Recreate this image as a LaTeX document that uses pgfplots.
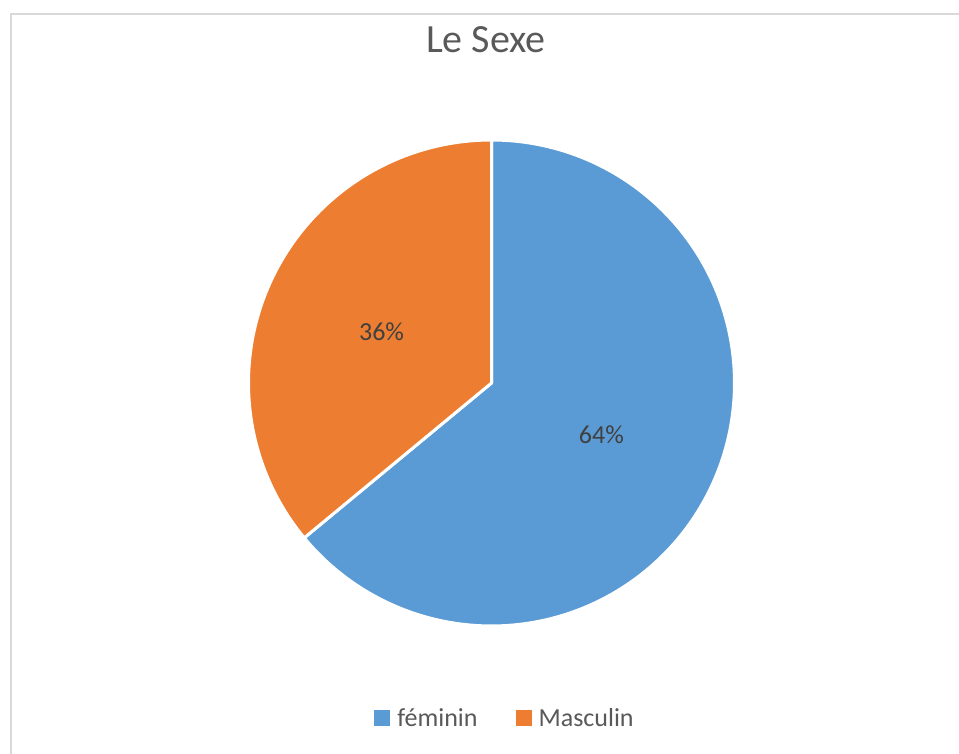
\documentclass[border=0pt]{standalone}
\usepackage{fontspec}
\setmainfont{Carlito}
\usepackage{pgfplots}
\usepackage{pgfplotstable}
\pgfplotsset{compat=1.18}

\definecolor{fem}{HTML}{5B9BD5}
\definecolor{mas}{HTML}{ED7D31}
\definecolor{titlegray}{HTML}{595959}
\definecolor{labelgray}{HTML}{404040}
\definecolor{framegray}{HTML}{D9D9D9}

% share of each group (%)
\pgfplotstableread{
grp pct
0 64
1 36
}\sexdata

\begin{document}
\begin{tikzpicture}
  \pgfplotstablegetelem{0}{pct}\of\sexdata \let\pctF\pgfplotsretval
  \pgfplotstablegetelem{1}{pct}\of\sexdata \let\pctM\pgfplotsretval
  % Excel style: start at 12 o'clock, run clockwise
  \pgfmathsetmacro{\aA}{90}
  \pgfmathsetmacro{\aB}{90-3.6*\pctF}
  \pgfmathsetmacro{\aC}{\aB-3.6*\pctM}
  \pgfmathsetmacro{\mF}{(\aA+\aB)/2}
  \pgfmathsetmacro{\mM}{(\aB+\aC)/2}
  \def\cx{491.5}\def\cy{371}\def\R{243}
  \begin{axis}[
      x=1pt, y=1pt,
      xmin=0, xmax=959, ymin=0, ymax=754,
      scale only axis,
      hide axis,
      clip=false,
      legend style={at={(axis cs:505,36)}, anchor=center, draw=none, fill=none,
        font=\fontsize{26}{30}\selectfont\color{titlegray},
        legend columns=2,
        /tikz/every odd column/.append style={column sep=5pt},
        /tikz/every even column/.append style={column sep=36pt}},
      legend image code/.code={\fill[#1,draw=none] (0pt,-8pt) rectangle (16pt,8pt);},
    ]
    \draw[framegray, line width=2pt] (axis cs:11,0) -- (axis cs:11,740) -- (axis cs:959,740);

    \addplot[fill=fem, draw=white, line width=3pt, line join=round,
      domain=\aB:\aA, samples=150, variable=\t]
      ({\cx+\R*cos(\t)}, {\cy+\R*sin(\t)}) -- (axis cs:\cx,\cy) -- cycle;
    \addlegendentry{féminin}
    \addplot[fill=mas, draw=white, line width=3pt, line join=round,
      domain=\aC:\aB, samples=100, variable=\t]
      ({\cx+\R*cos(\t)}, {\cy+\R*sin(\t)}) -- (axis cs:\cx,\cy) -- cycle;
    \addlegendentry{Masculin}

    \node[font=\fontsize{26}{30}\selectfont, text=labelgray]
      at (axis cs:{\cx+0.5*\R*cos(\mF)},{\cy+0.5*\R*sin(\mF)}) {\pctF\%};
    \node[font=\fontsize{26}{30}\selectfont, text=labelgray]
      at (axis cs:{\cx+0.5*\R*cos(\mM)},{\cy+0.5*\R*sin(\mM)}) {\pctM\%};

    \node[anchor=base, font=\fontsize{40}{48}\selectfont, text=titlegray]
      at (axis cs:486,701) {Le Sexe};

    \coordinate (bl) at (axis cs:0,0);
    \coordinate (tr) at (axis cs:959,754);
  \end{axis}
  \pgfresetboundingbox
  \path[use as bounding box] (bl) rectangle (tr);
\end{tikzpicture}
\end{document}
